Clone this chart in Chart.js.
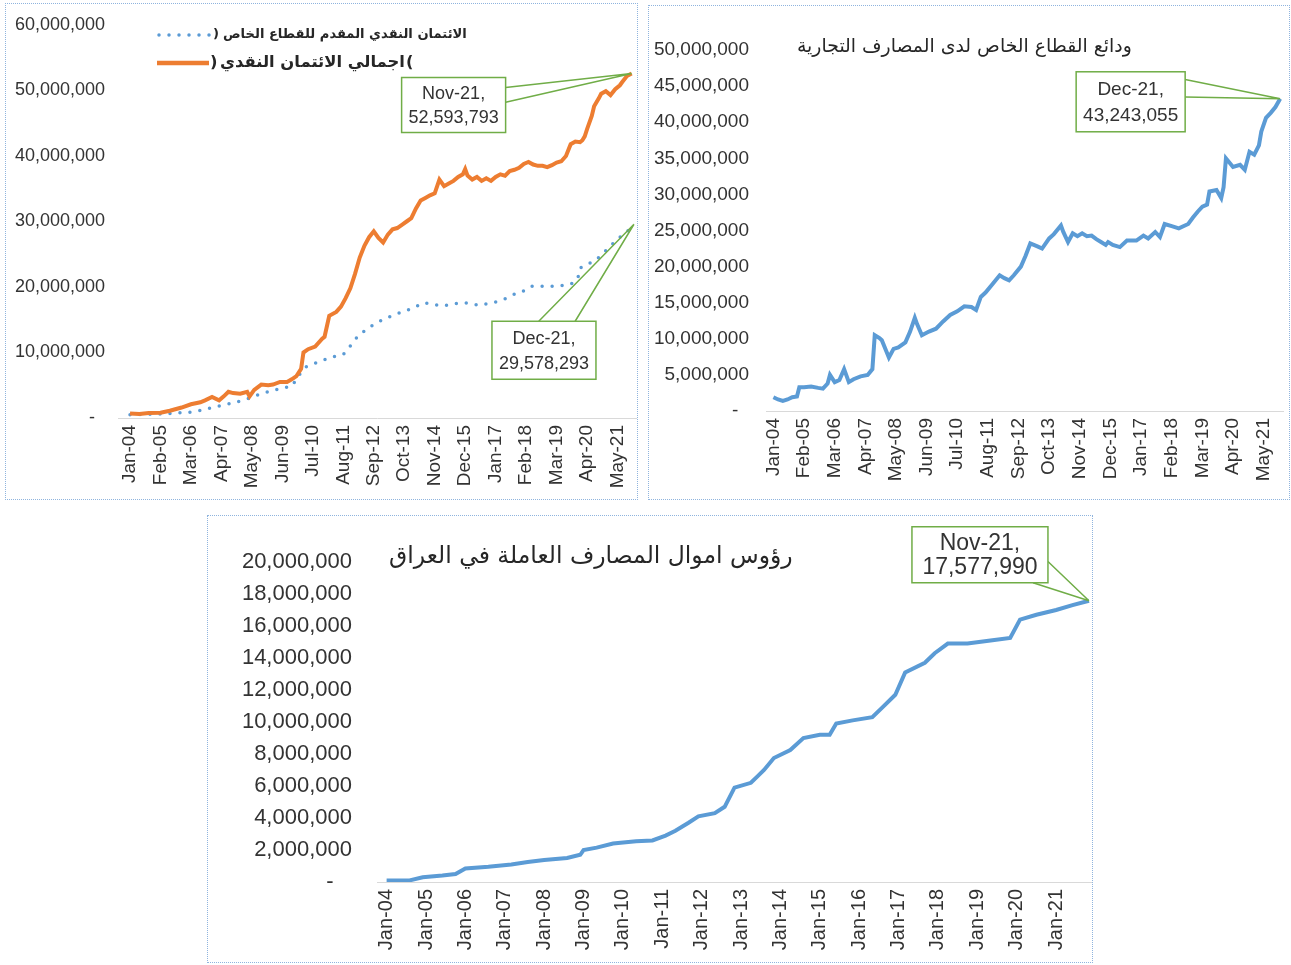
<!DOCTYPE html>
<html>
<head>
<meta charset="utf-8">
<script src="https://cdn.jsdelivr.net/npm/chart.js@4.4.1/dist/chart.umd.min.js"></script>
<style>
  body { margin: 0; background: #fff; width: 1291px; height: 965px; position: relative; overflow: hidden; }
  canvas { position: absolute; outline: 1px dotted #8FB4DE; outline-offset: -1px; }
</style>
</head>
<body>
<canvas id="credit-chart" width="633" height="497" style="left:5px;top:3px"></canvas>
<canvas id="deposit-chart" width="642" height="495" style="left:648px;top:5px"></canvas>
<canvas id="capital-chart" width="886" height="448" style="left:207px;top:515px"></canvas>
<script>
// month index: 0 = Jan-04 ; values in millions of dinars
const tickMonthsTop = [0, 13, 26, 39, 52, 65, 78, 91, 104, 117, 130, 143, 156, 169, 182, 195, 208];
const tickLabelsTop = ['Jan-04', 'Feb-05', 'Mar-06', 'Apr-07', 'May-08', 'Jun-09', 'Jul-10', 'Aug-11', 'Sep-12',
  'Oct-13', 'Nov-14', 'Dec-15', 'Jan-17', 'Feb-18', 'Mar-19', 'Apr-20', 'May-21'];
const tickMonthsBottom = [0, 12, 24, 36, 48, 60, 72, 84, 96, 108, 120, 132, 144, 156, 168, 180, 192, 204];
const tickLabelsBottom = ['Jan-04', 'Jan-05', 'Jan-06', 'Jan-07', 'Jan-08', 'Jan-09', 'Jan-10', 'Jan-11', 'Jan-12',
  'Jan-13', 'Jan-14', 'Jan-15', 'Jan-16', 'Jan-17', 'Jan-18', 'Jan-19', 'Jan-20', 'Jan-21'];

const totalCreditMonths = [0,4,8,13,17,22,26,30,32,35,38,40,42,44,47,50,51,53,56,59,61,64,67,69,71,73,74,76,79,82,
  83,85,88,90,92,94,96,98,100,102,104,106,108,110,112,114,116,118,120,122,124,126,128,130,132,134,136,138,140,142,
  143,144,146,148,150,152,154,156,158,160,162,164,166,168,170,172,174,176,178,180,182,184,186,188,190,192,193,194,
  195,197,198,200,201,203,205,207,209,210,212,214];
const totalCreditMn = [0.7,0.6,0.75,0.8,1.1,1.6,2.1,2.4,2.7,3.2,2.7,3.3,4.0,3.8,3.7,4.0,3.3,4.3,5.1,5.0,5.1,5.5,5.5,
  5.9,6.4,7.5,10.0,10.5,10.9,12.1,12.4,15.6,16.2,17.0,18.3,19.8,22.0,24.5,26.3,27.6,28.5,27.5,26.8,28.0,28.8,29.0,
  29.5,30.0,30.5,32.0,33.2,33.6,34.0,34.3,36.4,35.4,35.8,36.2,36.8,37.2,38.0,37.0,36.4,36.8,36.2,36.6,36.2,36.8,37.2,
  37.0,37.7,37.9,38.2,38.8,39.1,38.7,38.5,38.5,38.3,38.6,39.0,39.2,40.0,41.8,42.2,42.1,42.4,43.0,44.1,46.1,47.6,48.8,
  49.5,49.9,49.3,50.2,50.8,51.3,52.2,52.593793];

const privateCreditMonths = [0,6,13,20,26,31,35,40,44,50,55,60,65,69,72,75,80,86,91,94,97,101,105,109,113,117,121,
  125,129,133,137,141,145,149,153,157,160,164,167,171,175,180,184,188,191,192,196,199,202,205,209,212,215];
const privateCreditMn = [0.5,0.55,0.6,0.75,0.9,1.2,1.6,2.0,2.3,2.9,3.6,4.1,4.6,4.8,6.5,7.8,8.5,9.3,9.7,11.0,12.4,
  13.6,14.5,15.2,15.8,16.3,16.8,17.6,17.4,17.1,17.3,17.6,17.5,17.2,17.5,17.8,18.2,18.9,19.2,20.1,20.1,20.1,20.2,
  20.4,21.2,22.9,23.6,24.2,25.2,26.3,27.6,28.4,29.578293];

const depositMonths = [0,2,4,6,8,10,11,13,16,19,21,23,24,26,28,30,32,34,37,40,42,43,45,46,48,49,51,53,56,58,60,61,
  63,66,69,72,75,78,81,84,86,88,90,93,96,98,100,102,105,107,109,112,114,117,119,122,123,125,127,129,131,133,135,137,
  139,141,142,144,147,150,154,157,159,162,164,166,169,172,176,178,180,182,184,185,188,190,191,192,195,198,200,202,
  204,206,207,209,211,213,215];
const depositMn = [1.9,1.6,1.4,1.6,1.9,2.0,3.3,3.3,3.4,3.2,3.1,3.8,5.0,4.0,4.3,5.8,4.0,4.4,4.8,5.0,5.8,10.5,10.1,
  9.8,8.2,7.4,8.6,8.8,9.5,11.0,12.9,12.0,10.5,11.0,11.4,12.4,13.3,13.8,14.5,14.4,14.0,15.8,16.4,17.6,18.8,18.4,18.1,
  18.8,20.0,21.5,23.2,22.8,22.5,23.9,24.5,25.7,24.8,23.4,24.6,24.2,24.6,24.2,24.3,23.8,23.4,23.0,23.4,23.0,22.7,23.6,
  23.6,24.3,23.9,24.8,24.1,25.9,25.6,25.3,25.9,26.8,27.6,28.3,28.6,30.4,30.6,29.5,31.0,35.0,33.8,34.1,33.4,35.9,35.5,
  36.8,38.7,40.6,41.3,42.1,43.243055];

const capitalMonths = [0,7,11,17,21,24,31,38,43,48,55,59,60,64,69,76,81,85,88,92,95,100,103,106,111,113,115,118,123,
  127,132,135,137,142,148,151,155,158,164,167,171,177,184,190,193,198,204,209,214];
const capitalMn = [0.1,0.1,0.3,0.4,0.5,0.85,0.95,1.1,1.25,1.37,1.5,1.7,2.0,2.15,2.4,2.55,2.6,2.9,3.2,3.7,4.1,4.3,4.7,
  5.9,6.2,6.6,7.0,7.75,8.25,9.0,9.2,9.2,9.9,10.1,10.3,10.9,11.7,13.1,13.7,14.3,14.9,14.9,15.1,15.25,16.4,16.7,17.0,
  17.3,17.57799];

const legendTexts = ['الائتمان النقدي المقدم للقطاع الخاص', 'اجمالي الائتمان النقدي'];
const depositTitle = 'ودائع القطاع الخاص لدى المصارف التجارية';
const capitalTitle = 'رؤوس اموال المصارف العاملة في العراق';

const monthNames = ['Jan','Feb','Mar','Apr','May','Jun','Jul','Aug','Sep','Oct','Nov','Dec'];
const ARABIC = '"DejaVu Sans", "Noto Sans", sans-serif';
const LATIN = '"Liberation Sans", Arial, sans-serif';
const ORANGE = '#ED7D31', BLUE = '#5B9BD5', GREEN = '#70AD47', TEXT = '#333333';

Chart.defaults.font.family = LATIN;
Chart.defaults.color = TEXT;

function toPoints(months, mn) {
  return months.map((m, i) => ({ x: m, y: mn[i] * 1e6 }));
}
function monthLabel(i) {
  return monthNames[i % 12] + '-' + String(4 + Math.floor(i / 12)).padStart(2, '0');
}
function fitFont(ctx, text, weight, family, width) {
  ctx.font = weight + ' 20px ' + family;
  return 20 * width / ctx.measureText(text).width;
}

function xAxis(min, max, months, labels, size, height) {
  return {
    type: 'linear', min: min, max: max,
    grid: { display: false, drawTicks: false },
    border: { display: true, color: '#D9D9D9', width: 1 },
    afterBuildTicks: s => { s.ticks = months.map(v => ({ value: v })); },
    afterFit: s => { s.height = height; s.paddingLeft = 0; s.paddingRight = 0; },
    ticks: { autoSkip: false, minRotation: 90, maxRotation: 90, padding: 7, font: { size: size },
      callback: (v, i) => labels[i] }
  };
}
function yAxis(max, step, size, width, pad, zero) {
  return {
    min: 0, max: max,
    grid: { display: false, drawTicks: false },
    border: { display: false },
    afterFit: s => { s.width = width; s.paddingTop = 0; s.paddingBottom = 0; },
    ticks: { stepSize: step, padding: pad, font: { size: size },
      callback: v => v === 0 ? zero : v.toLocaleString('en-US') }
  };
}

// data label box with two leader lines to the last point of a dataset
function callout(id, c) {
  return {
    id: id,
    afterDatasetsDraw(chart) {
      const ds = chart.data.datasets[c.dataset];
      const last = ds.data[ds.data.length - 1];
      const meta = chart.getDatasetMeta(c.dataset);
      const pt = meta.data[meta.data.length - 1];
      const ctx = chart.ctx;
      const bx = pt.x + c.box[0], by = pt.y + c.box[1], bw = c.box[2], bh = c.box[3];
      ctx.save();
      ctx.strokeStyle = GREEN;
      ctx.lineWidth = 1.5;
      ctx.beginPath();
      c.anchors.forEach(a => { ctx.moveTo(bx + a[0] * bw, by + a[1] * bh); ctx.lineTo(pt.x, pt.y); });
      ctx.stroke();
      ctx.fillStyle = '#fff';
      ctx.fillRect(bx, by, bw, bh);
      ctx.strokeRect(bx, by, bw, bh);
      ctx.fillStyle = TEXT;
      ctx.font = c.size + 'px ' + LATIN;
      ctx.textAlign = 'center';
      ctx.textBaseline = 'middle';
      ctx.fillText(monthLabel(last.x) + ',', bx + bw / 2, by + bh * 0.3);
      ctx.fillText(Math.round(last.y).toLocaleString('en-US'), bx + bw / 2, by + bh * 0.73);
      ctx.restore();
    }
  };
}

function titleText(id, text, x, y, width, weight) {
  return {
    id: id,
    afterDraw(chart) {
      const ctx = chart.ctx;
      ctx.save();
      const size = fitFont(ctx, text, weight, ARABIC, width);
      ctx.font = weight + ' ' + size + 'px ' + ARABIC;
      ctx.fillStyle = '#262626';
      ctx.textAlign = 'left';
      ctx.textBaseline = 'middle';
      ctx.fillText(text, x, y);
      ctx.restore();
    }
  };
}

// legend: sample on the left, ")" then the Arabic name (and "(" on the second line)
const creditLegend = {
  id: 'creditLegend',
  afterDraw(chart) {
    const ctx = chart.ctx;
    ctx.save();
    ctx.strokeStyle = BLUE;
    ctx.lineWidth = 3.5;
    ctx.lineCap = 'round';
    ctx.setLineDash([0, 10]);
    ctx.beginPath(); ctx.moveTo(154, 32); ctx.lineTo(206, 32); ctx.stroke();
    ctx.setLineDash([]);
    ctx.lineCap = 'butt';
    ctx.strokeStyle = ORANGE;
    ctx.lineWidth = 4.5;
    ctx.beginPath(); ctx.moveTo(152, 60); ctx.lineTo(204, 60); ctx.stroke();

    ctx.fillStyle = '#262626';
    ctx.textAlign = 'left';
    ctx.textBaseline = 'middle';
    ctx.direction = 'ltr';
    const s1 = fitFont(ctx, legendTexts[0], 'bold', ARABIC, 244);
    ctx.font = 'bold ' + s1 + 'px ' + ARABIC;
    ctx.fillText(')', 208, 32);
    ctx.fillText(legendTexts[0], 218, 32);
    const s2 = fitFont(ctx, legendTexts[1], 'bold', ARABIC, 185);
    ctx.font = 'bold ' + Math.min(s2, s1 * 1.25) + 'px ' + ARABIC;
    ctx.fillText(')', 205, 60);
    ctx.fillText(legendTexts[1], 215, 60);
    const w2 = ctx.measureText(legendTexts[1]).width;
    ctx.fillText('(', 216 + w2, 60);
    ctx.restore();
  }
};

const common = { responsive: false, animation: false, devicePixelRatio: 1,
  plugins: { legend: { display: false }, tooltip: { enabled: false } } };

new Chart(document.getElementById('credit-chart'), {
  type: 'line',
  data: {
    datasets: [{
      label: 'اجمالي الائتمان النقدي',
      data: toPoints(totalCreditMonths, totalCreditMn),
      borderColor: ORANGE, borderWidth: 4, pointRadius: 0, tension: 0
    }, {
      label: 'الائتمان النقدي المقدم للقطاع الخاص',
      data: toPoints(privateCreditMonths, privateCreditMn),
      borderColor: BLUE, borderWidth: 3.5, borderDash: [0, 10], borderCapStyle: 'round',
      pointRadius: 0, tension: 0
    }]
  },
  options: Object.assign({}, common, {
    layout: { padding: { top: 22, right: 2, left: 0, bottom: 0 } },
    scales: {
      x: xAxis(-5.12, 215.87, tickMonthsTop, tickLabelsTop, 19, 82),
      y: yAxis(60e6, 10e6, 18, 113, 13, '-  ')
    }
  }),
  plugins: [creditLegend,
    callout('totalCallout', { dataset: 0, box: [-230, 4, 104, 55], anchors: [[1, 0.18], [1, 0.45]], size: 18 }),
    callout('privateCallout', { dataset: 1, box: [-142, 97, 104, 58], anchors: [[0.45, 0], [0.8, 0]], size: 18 })]
});

new Chart(document.getElementById('deposit-chart'), {
  type: 'line',
  data: {
    datasets: [{
      label: depositTitle,
      data: toPoints(depositMonths, depositMn),
      borderColor: BLUE, borderWidth: 4, pointRadius: 0, tension: 0
    }]
  },
  options: Object.assign({}, common, {
    layout: { padding: { top: 45, right: 7, left: 0, bottom: 0 } },
    scales: {
      x: xAxis(-3.14, 216.21, tickMonthsTop, tickLabelsTop, 19, 89),
      y: yAxis(50e6, 5e6, 19, 118, 17, '-  ')
    }
  }),
  plugins: [titleText('depositTitle', depositTitle, 149, 42, 335, 'normal'),
    callout('depositCallout', { dataset: 0, box: [-204, -27, 109, 60], anchors: [[1, 0.13], [1, 0.42]], size: 19 })]
});

new Chart(document.getElementById('capital-chart'), {
  type: 'line',
  data: {
    datasets: [{
      label: capitalTitle,
      data: toPoints(capitalMonths, capitalMn),
      borderColor: BLUE, borderWidth: 4, pointRadius: 0, tension: 0
    }]
  },
  options: Object.assign({}, common, {
    layout: { padding: { top: 47, right: 1, left: 0, bottom: 0 } },
    scales: {
      x: xAxis(-2.93, 214.93, tickMonthsBottom, tickLabelsBottom, 20, 81),
      y: yAxis(20e6, 2e6, 22, 170, 25, '-   ')
    }
  }),
  plugins: [titleText('capitalTitle', capitalTitle, 182, 42, 404, 'normal'),
    callout('capitalCallout', { dataset: 0, box: [-177, -74, 136, 56], anchors: [[1, 0.62], [0.89, 1]], size: 23 })]
});
</script>
</body>
</html>
